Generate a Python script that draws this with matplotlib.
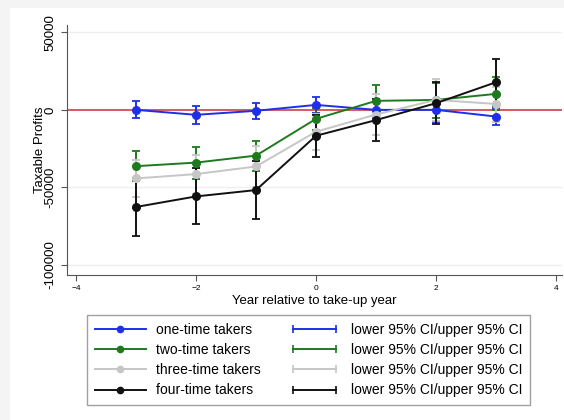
import numpy as np
import matplotlib
matplotlib.use("Agg")
import matplotlib.pyplot as plt
from matplotlib.lines import Line2D
from matplotlib.patches import Rectangle
from matplotlib.legend_handler import HandlerLine2D

plt.rcParams['font.family'] = ['Liberation Sans', 'DejaVu Sans']

years = [-3, -2, -1, 0, 1, 2, 3]

one_time = [0, -3200, -600, 3200, 0, 0, -4300]
one_lo = [-5500, -9000, -6000, -2000, -5000, -8000, -9600]
one_hi = [5500, 2500, 4500, 8000, 5000, 5500, 1000]

two_time = [-36300, -34000, -29500, -5800, 5800, 6400, 10300]
two_lo = [-46000, -44500, -39500, -13000, -4000, -5000, 0]
two_hi = [-26300, -23700, -19900, 1500, 16000, 17000, 21000]

three_time = [-44200, -41400, -36500, -14100, -3000, 6400, 3800]
three_lo = [-56000, -54000, -50000, -26000, -16000, -7000, -8000]
three_hi = [-32000, -29000, -23000, -2500, 10000, 20000, 15000]

four_time = [-62600, -55800, -51700, -16700, -6600, 4300, 17800]
four_lo = [-81400, -73700, -70500, -30100, -19900, -9000, 2500]
four_hi = [-44000, -37800, -33100, -3000, 7000, 18000, 33000]

labels = ['one-time takers', 'two-time takers', 'three-time takers', 'four-time takers']
colors = ['#1f2fe8', '#1e7a1e', '#c6c6c6', '#111111']
series = [(one_time, one_lo, one_hi), (two_time, two_lo, two_hi),
          (three_time, three_lo, three_hi), (four_time, four_lo, four_hi)]

fig = plt.figure(figsize=(5.64, 4.2), dpi=100, facecolor='white')
# faint grey margin along the top and left edges
fig.patches.append(Rectangle((0, 0), 10/564, 1, transform=fig.transFigure,
                             facecolor='#f4f4f4', edgecolor='none', zorder=-5))
fig.patches.append(Rectangle((0, 1 - 8/420), 1, 8/420, transform=fig.transFigure,
                             facecolor='#f4f4f4', edgecolor='none', zorder=-5))
ax = fig.add_axes([67/564, 1 - 275/420, (562 - 67)/564, (275 - 25)/420])
ax.set_facecolor('white')

for v in [50000, -50000, -100000]:
    ax.axhline(v, color='#efefef', lw=1.0, zorder=0)
ax.axhline(0, color='#d23a4a', lw=1.2, zorder=1)

for (y, lo, hi), c in zip(series, colors):
    y = np.array(y)
    err = [y - np.array(lo), np.array(hi) - y]
    ax.errorbar(years, y, yerr=err, color=c, lw=1.4, marker='o', ms=5.5,
                capsize=3, capthick=1.3, elinewidth=1.4, zorder=3)

ax.set_xlim(-4.15, 4.1)
ax.set_ylim(-106450, 54700)
ax.set_xticks([-4, -2, 0, 2, 4])
ax.set_yticks([50000, 0, -50000, -100000])
ax.set_yticklabels(['50000', '0', '-50000', '-100000'], rotation=90, va='center', fontsize=9.5)
ax.tick_params(axis='x', labelsize=6, length=4, color='#555555')
ax.tick_params(axis='y', length=4, color='#555555')
for s in ['top', 'right']:
    ax.spines[s].set_visible(False)
for s in ['left', 'bottom']:
    ax.spines[s].set_color('#555555')
ax.set_xlabel('Year relative to take-up year', fontsize=9.5, labelpad=2)
ax.set_ylabel('Taxable Profits', fontsize=9.5, labelpad=-1)

handles = []
for c in colors:
    handles.append(Line2D([], [], color=c, lw=1.4, marker='o', ms=4.5))
ci_handles = []
for c in colors:
    ci_handles.append(Line2D([], [], color=c, lw=1.4, marker='|', ms=6, mew=1.2))
hmap = {h: HandlerLine2D(numpoints=2) for h in ci_handles}
leg = fig.legend(handles + ci_handles, labels + ['lower 95% CI/upper 95% CI'] * 4,
                 ncol=2, loc='upper left', bbox_to_anchor=(87/564, 1 - 315/420),
                 fontsize=10, frameon=True, fancybox=False, edgecolor='#888888',
                 handlelength=3.7, handletextpad=0.75, labelspacing=0.45, borderpad=0.55,
                 columnspacing=2.0, borderaxespad=0, handler_map=hmap)
leg.get_frame().set_linewidth(1.0)

fig.savefig('out.png', dpi=100, facecolor=fig.get_facecolor())
